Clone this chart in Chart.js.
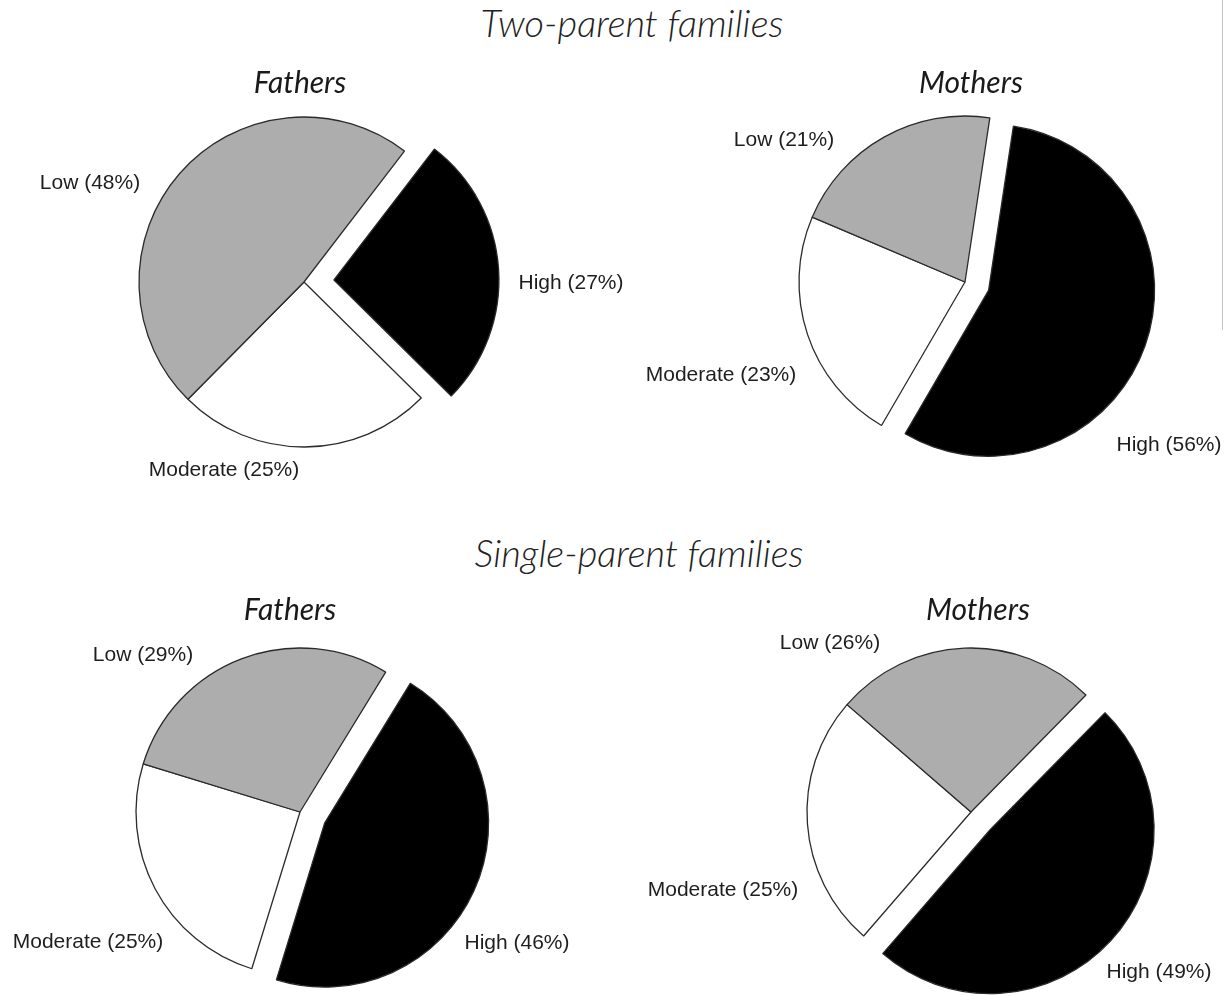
<!DOCTYPE html>
<html>
<head>
<meta charset="utf-8">
<title>Parental involvement in two-parent and single-parent families</title>
<script src="https://cdn.jsdelivr.net/npm/chart.js@4.4.1/dist/chart.umd.min.js"></script>
<style>
  html, body { margin: 0; padding: 0; background: #fff; }
  body { width: 1225px; height: 996px; position: relative; overflow: hidden; }
  .heading {
    position: absolute; transform: translateX(-50%); white-space: nowrap;
    font-family: 'Lato', 'Open Sans', sans-serif; font-style: italic; font-weight: 300;
    font-size: 38px; line-height: 38px; color: #222;
  }
  .pie { position: absolute; }
  .edge { position: absolute; left: 1222px; top: 0; width: 1px; height: 330px; background: #c4c4c4; }
</style>
</head>
<body>
<div class="heading" style="left:632px; top:3px;">Two-parent families</div>
<div class="heading" style="left:639px; top:533px;">Single-parent families</div>
<div class="edge"></div>

<canvas id="pieTwoFathers" class="pie" width="720" height="540"></canvas>
<canvas id="pieTwoMothers" class="pie" width="720" height="540"></canvas>
<canvas id="pieSingleFathers" class="pie" width="720" height="540"></canvas>
<canvas id="pieSingleMothers" class="pie" width="720" height="540"></canvas>

<script>
// --- data (percent of parents by level) ---
const CATEGORIES = ['High', 'Moderate', 'Low'];
const TWO_PARENT_FATHERS = [27, 25, 48];
const TWO_PARENT_MOTHERS = [56, 23, 21];
const SINGLE_PARENT_FATHERS = [46, 25, 29];
const SINGLE_PARENT_MOTHERS = [49, 25, 26];

const SLICE_COLORS = ['#000000', '#ffffff', '#adadad'];
const CANVAS_W = 720, CANVAS_H = 540;

// layout of each pie: centre on the page, start angle, how far "High" is pulled out,
// and where the title / slice labels sit relative to the centre
const PIES = [
    { id: 'pieTwoFathers', values: TWO_PARENT_FATHERS, title: 'Fathers',
      cx: 304, cy: 282, radius: 165, rotation: 37.5, explode: [30, 0, 0],
      titleAt: [-4, -199], labelAt: [[267, 1], [-80, 188], [-214, -99]] },
    { id: 'pieTwoMothers', values: TWO_PARENT_MOTHERS, title: 'Mothers',
      cx: 965, cy: 282, radius: 166, rotation: 8.6, explode: [25, 0, 0],
      titleAt: [6, -199], labelAt: [[204, 163], [-244, 93], [-181, -142]] },
    { id: 'pieSingleFathers', values: SINGLE_PARENT_FATHERS, title: 'Fathers',
      cx: 300, cy: 812, radius: 164, rotation: 31.5, explode: [27, 0, 0],
      titleAt: [-10, -202], labelAt: [[217, 131], [-212, 130], [-157, -157]] },
    { id: 'pieSingleMothers', values: SINGLE_PARENT_MOTHERS, title: 'Mothers',
      cx: 971, cy: 812, radius: 164, rotation: 44.5, explode: [26, 0, 0],
      titleAt: [7, -202], labelAt: [[188, 160], [-248, 78], [-141, -169]] }
];

// pull slices out along their mid angle without growing them
// (the built-in "offset" also enlarges big slices)
const explodePlugin = {
    id: 'explode',
    afterDatasetUpdate(chart, args, opts) {
        const dist = opts.distance || [];
        args.meta.data.forEach((arc, i) => {
            const d = dist[i] || 0;
            if (!d) return;
            const mid = (arc.startAngle + arc.endAngle) / 2;
            arc.x += Math.cos(mid) * d;
            arc.y += Math.sin(mid) * d;
        });
    }
};

const sliceLabelPlugin = {
    id: 'sliceLabels',
    afterDraw(chart, args, opts) {
        const { ctx, chartArea } = chart;
        const cx = (chartArea.left + chartArea.right) / 2;
        const cy = (chartArea.top + chartArea.bottom) / 2;
        const values = chart.data.datasets[0].data;
        ctx.save();
        ctx.textAlign = 'center';
        ctx.textBaseline = 'middle';

        ctx.fillStyle = '#1a1a1a';
        ctx.font = 'italic 400 30px Lato, "Open Sans", sans-serif';
        ctx.fillText(opts.title, cx + opts.titleAt[0], cy + opts.titleAt[1]);

        ctx.fillStyle = '#1e1e1e';
        ctx.font = '21px "Liberation Sans", Arial, sans-serif';
        chart.data.labels.forEach((label, i) => {
            const pos = opts.labelAt[i];
            ctx.fillText(label + ' (' + values[i] + '%)', cx + pos[0], cy + pos[1]);
        });
        ctx.restore();
    }
};

PIES.forEach(p => {
    const canvas = document.getElementById(p.id);
    canvas.style.left = (p.cx - CANVAS_W / 2) + 'px';
    canvas.style.top = (p.cy - CANVAS_H / 2) + 'px';

    new Chart(canvas, {
        type: 'pie',
        data: {
            labels: CATEGORIES,
            datasets: [{
                data: p.values,
                backgroundColor: SLICE_COLORS,
                borderColor: '#2b2b2b',
                borderWidth: 1.3
            }]
        },
        options: {
            responsive: false,
            animation: false,
            events: [],
            layout: { padding: 0 },
            radius: p.radius,
            rotation: p.rotation,
            plugins: {
                legend: { display: false },
                tooltip: { enabled: false },
                explode: { distance: p.explode },
                sliceLabels: { title: p.title, titleAt: p.titleAt, labelAt: p.labelAt }
            }
        },
        plugins: [explodePlugin, sliceLabelPlugin]
    });
});
</script>
</body>
</html>
